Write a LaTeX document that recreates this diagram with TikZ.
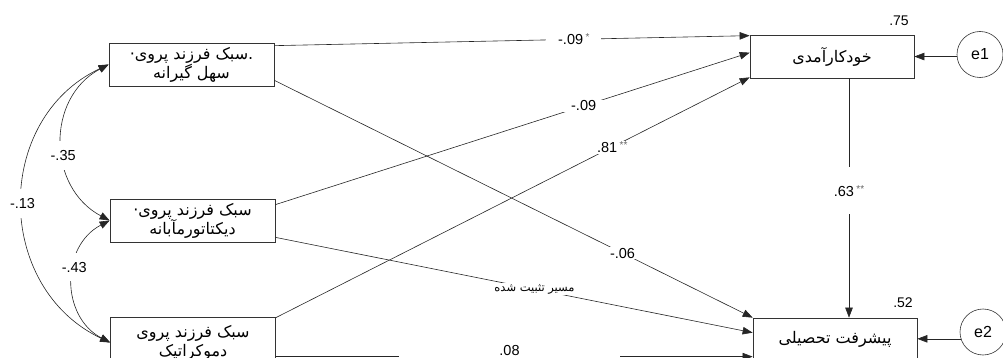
\documentclass[tikz,border=0pt]{standalone}
\usepackage{fontspec}
\setmainfont{Liberation Sans}
\newfontfamily\fa[Script=Arabic]{DejaVu Sans}
\TeXXeTstate=1
\usetikzlibrary{arrows.meta}

\begin{document}
\begin{tikzpicture}[x=1pt,y=-1pt,
  line/.style={draw=black!85, line width=0.6pt},
  arr/.style={line, -{Triangle[length=10pt,width=7.5pt]}},
  cov/.style={line, {Triangle[length=10pt,width=7.5pt]}-{Triangle[length=10pt,width=7.5pt]}},
  box/.style={draw=black!80, line width=0.7pt, minimum width=165pt, minimum height=43pt,
              inner sep=0pt, align=center, font=\fa\fontsize{16}{19}\selectfont},
  err/.style={circle, draw=black!80, line width=0.6pt, minimum size=46pt, inner sep=0pt,
              font=\fontsize{16}{17}\selectfont},
  lab/.style={fill=white, inner xsep=12pt, inner ysep=1pt, font=\fontsize{14.5}{15}\selectfont},
  falab/.style={fill=white, inner xsep=10pt, inner ysep=1pt, font=\fa\fontsize{11.5}{13}\selectfont},
  rsq/.style={font=\fontsize{14}{15}\selectfont, inner sep=0pt},
]
\newcommand{\sig}[1]{\raisebox{4pt}{\color{black!60}\fontsize{10}{10}\selectfont #1}}
\useasboundingbox (0,0) rectangle (1003,358);
\clip (0,0) rectangle (1003,358);

% parenting styles (exogenous)
\node[box] (b1) at (191.5,64.5) {\beginR.سبک فرزند پروی·\endR\\\beginR سهل گیرانه\endR};
\node[box] (b2) at (192.5,220.5) {\beginR سبک فرزند  پروی·\endR\\\beginR دیکتاتورمآبانه\endR};
\node[box, minimum height=51pt] (b3) at (193,342.5) {\beginR سبک فرزند  پروی\endR\\\beginR دموکراتیک\endR};

% endogenous variables
\node[box, minimum width=164pt] (khod) at (832,56.5) {\beginR خودکارآمدی\endR};
\node[box, minimum width=164pt] (pish) at (835,339.5) {\beginR پیشرفت تحصیلی\endR};

% error terms
\node[err] (e1) at (980,54.5) {e1};
\node[err] (e2) at (983,332) {e2};

% squared multiple correlations
\node[rsq] (r1) at (899,21) {.75};
\node[rsq] (r2) at (903,303) {.52};

% covariances between the parenting styles
\draw[cov] (b1.west) .. controls +(154.8:128) and +(205.2:128) .. node[lab, pos=0.5, inner xsep=2pt, inner ysep=9pt] {-.13} (b3.west);
\draw[cov] (b1.west) .. controls +(152.2:70.9) and +(207.8:70.9) .. node[lab, pos=0.57, inner xsep=2pt, inner ysep=9pt] {-.35} (b2.west);
\draw[cov] (b2.west) .. controls +(152.5:55.7) and +(207.5:55.7) .. node[lab, pos=0.4, inner xsep=2pt, inner ysep=9pt] {-.43} (b3.west);

% paths to self-efficacy
\draw[arr] ([yshift=-3pt]b1.north east) -- node[lab, pos=0.63] {-.09\,\sig{*}} ([yshift=-1pt]khod.north west);
\draw[arr] ([yshift=-6pt]b2.north east) -- node[lab, pos=0.65] {-.09} ([yshift=-18pt]khod.north west);
\draw[arr] ([yshift=-1pt]b3.north east) -- node[lab, pos=0.71] {.81\,\sig{**}} ([yshift=1pt]khod.south west);

% paths to academic achievement
\draw[arr] ([yshift=6pt]b1.south east) -- node[lab, pos=0.728] {-.06} (pish.north west);
\draw[arr] ([yshift=5pt]b2.south east) -- node[falab, pos=0.543] {\beginR مسیر تثبیت شده\endR} ([yshift=-15pt]pish.north west);
\draw[arr] ([yshift=-40pt]b3.north east) -- node[lab, pos=0.49, yshift=6pt, inner ysep=4pt, inner xsep=100pt] {.08} ([yshift=-39pt]pish.north west);

% self-efficacy -> academic achievement
\coordinate (g1) at ([xshift=17pt]khod.south);
\draw[arr] (g1) -- node[lab, pos=0.47, inner xsep=2pt, inner ysep=18pt] {.63\,\sig{**}} (g1 |- pish.north);

% error terms
\draw[arr] (e1.185) -- (e1.185 -| khod.east);
\draw[arr] (e2.197) -- (e2.197 -| pish.east);
\end{tikzpicture}
\end{document}
